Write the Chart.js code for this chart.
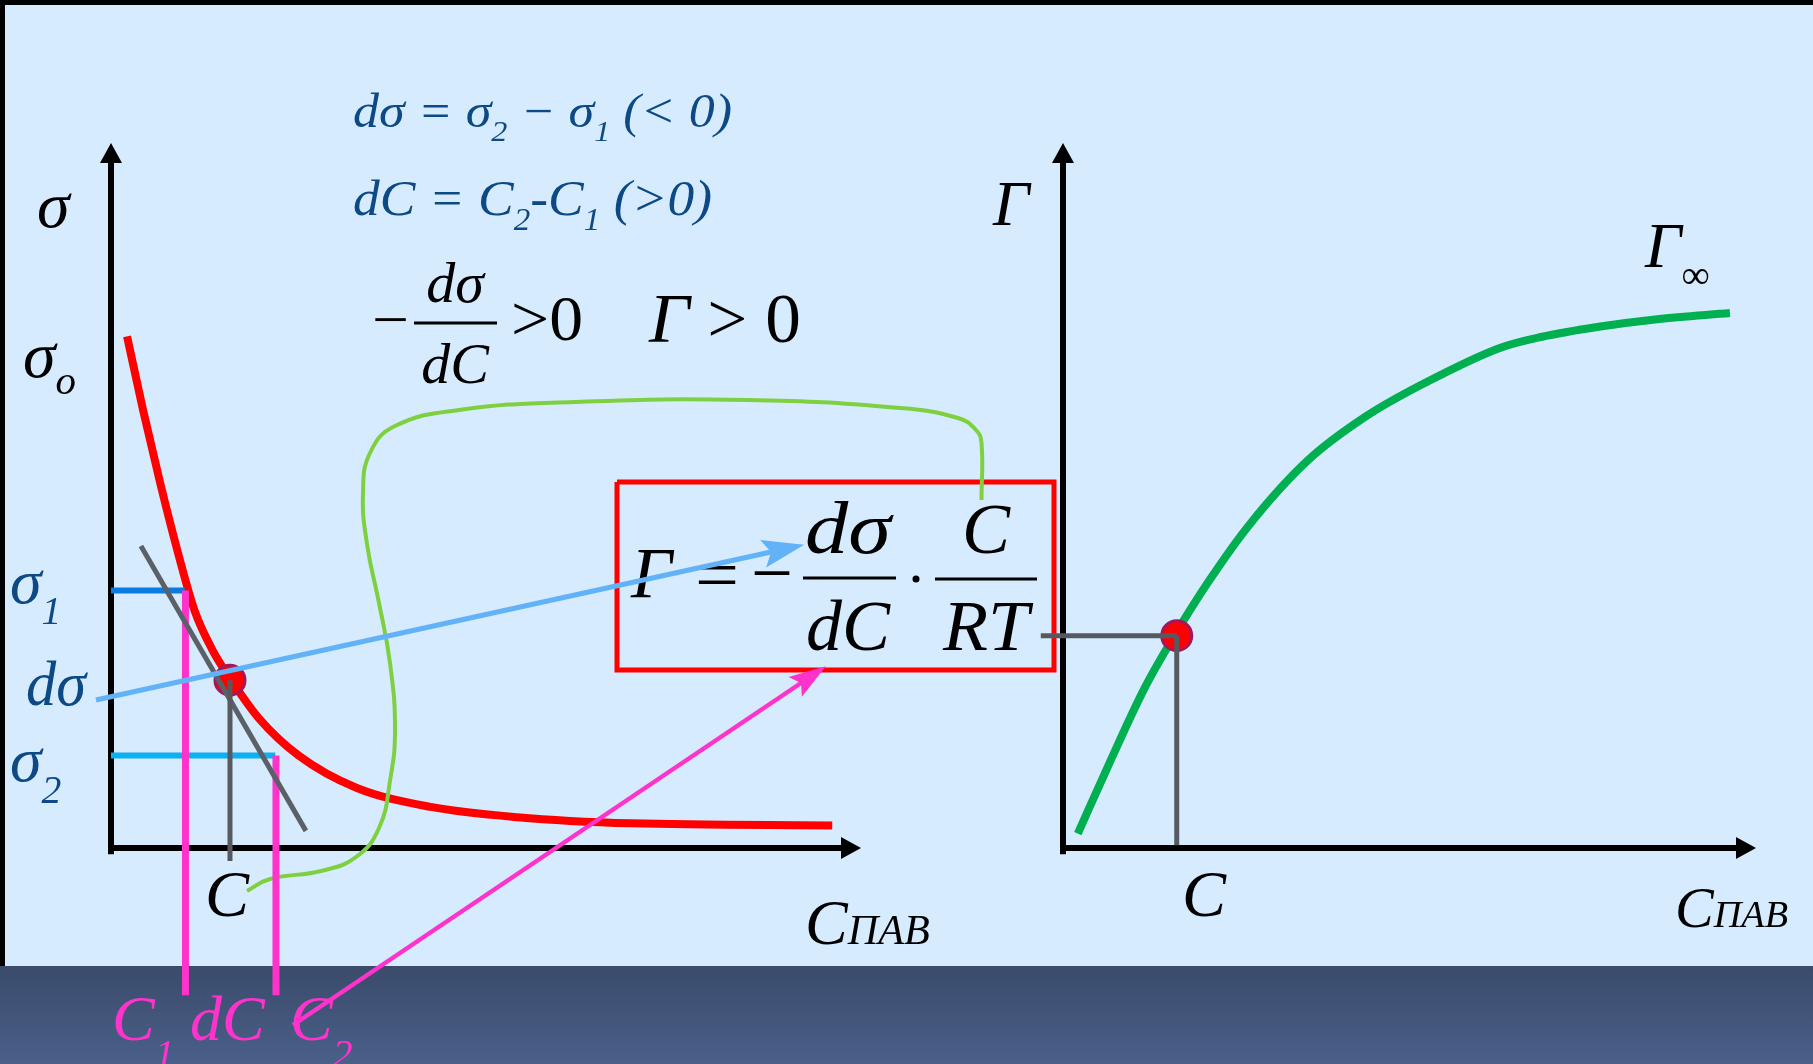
<!DOCTYPE html>
<html>
<head>
<meta charset="utf-8">
<script src="https://cdn.jsdelivr.net/npm/chart.js@4.4.0/dist/chart.umd.min.js"></script>
<style>
  html, body { margin: 0; padding: 0; background: #000; overflow: hidden; }
  #wrap { width: 1813px; height: 1064px; }
</style>
</head>
<body>
<div id="wrap"><canvas id="c" width="1813" height="1064"></canvas></div>
<script>
// ---- левая панель: σ(C), условные единицы (C 0..10, σ 0..10)
const sigmaC = [0.22, 0.44, 0.68, 0.92, 1.15, 1.39, 1.66, 2.02, 2.57, 3.36, 4.38, 5.56, 7.13, 9.88];
const sigmaV = [7.47, 6.39, 5.30, 4.30, 3.45, 2.89, 2.43, 1.90, 1.35, 0.88, 0.60, 0.45, 0.36, 0.33];
const tangentC = [0.41, 2.67];
const tangentV = [4.41, 0.25];
const pointC = 1.63, pointSigma = 2.45;
const sigma1 = 3.76, sigma2 = 1.35;
const c1 = 1.02, c2 = 2.26;

// ---- правая панель: Γ(C)
const gammaC = [0.22, 0.69, 1.21, 1.65, 2.17, 2.77, 3.64, 4.50, 5.36, 6.49, 7.10, 7.96, 8.83, 9.91];
const gammaV = [0.21, 1.24, 2.33, 3.09, 3.90, 4.72, 5.66, 6.30, 6.78, 7.30, 7.46, 7.61, 7.72, 7.81];
const pointGC = 1.69, pointGamma = 3.10;

// ---- связи на листе (единицы листа)
const boxX = [617, 1054, 1054, 617, 617];
const boxY = [482, 482, 670, 670, 482];
const blueArrowX = [96, 771];
const blueArrowY = [700, 552];
const pinkArrowX = [293, 801];
const pinkArrowY = [1025, 683];
const linkX = [247, 270, 321, 356, 379, 390, 395, 390, 379, 367, 363, 370, 395, 459, 574, 746, 900, 958, 976, 981.5, 981.5];
const linkY = [891, 879, 871, 857, 828, 781, 730, 663, 603, 544, 493, 453, 426, 410, 402, 400, 408, 418, 430, 443, 500];

const FONT = "'Liberation Serif', 'Times New Roman', serif";
const BLUE = '#0d4a85', MAG = '#ff33cc';

// подписи: текст + место
const labels = [
  { p: [['dσ = σ'], ['2', 's'], [' − σ'], ['1', 's'], [' (< 0)']], x: 353, y: 127, size: 48, color: BLUE, w: 379 },
  { p: [['dC = C'], ['2', 's'], ['-C'], ['1', 's'], [' (>0)']], x: 353, y: 215, size: 50, color: BLUE, w: 359 },
  { p: [['−', 'up']], x: 372, y: 339, size: 58, w: 37 },
  { p: [['dσ']], x: 455, y: 302, size: 58, align: 'center' },
  { p: [['dC']], x: 455, y: 383, size: 58, align: 'center' },
  { p: [['>0', 'up']], x: 511, y: 340, size: 64, w: 72 },
  { p: [['Γ'], [' > 0', 'up']], x: 649, y: 342, size: 70, w: 152 },
  { bar: [414, 497, 323], lw: 3 },

  { p: [['σ']], x: 37, y: 227, size: 66 },
  { p: [['σ'], ['o', 's']], x: 23, y: 377, size: 66, sub: 0.26 },
  { p: [['σ'], ['1', 's']], x: 10, y: 603, size: 64, color: BLUE, sub: 0.33 },
  { p: [['dσ']], x: 26, y: 705, size: 64, color: BLUE, w: 60 },
  { p: [['σ'], ['2', 's']], x: 10, y: 781, size: 64, color: BLUE, sub: 0.35 },
  { p: [['C']], x: 205, y: 916, size: 66 },
  { p: [['С'], ['ПАВ', 'sm']], x: 805, y: 944, size: 64 },

  { p: [['Γ']], x: 993, y: 225, size: 64 },
  { p: [['Γ'], ['∞', 's', 'up']], x: 1645, y: 267, size: 64, sub: 0.33 },
  { p: [['C']], x: 1182, y: 916, size: 66 },
  { p: [['С'], ['ПАВ', 'sm']], x: 1675, y: 927, size: 58 },

  { p: [['C'], ['1', 's']], x: 112, y: 1040, size: 64, color: MAG, sub: 0.42 },
  { p: [['dC']], x: 190, y: 1040, size: 64, color: MAG },
  { p: [['C'], ['2', 's']], x: 290, y: 1040, size: 64, color: MAG, sub: 0.42 },

  // формула в рамке
  { p: [['Γ']], x: 631, y: 597, size: 72 },
  { p: [['=', 'up']], x: 695, y: 599, size: 72, w: 44 },
  { p: [['−', 'up']], x: 751, y: 597, size: 72, w: 42 },
  { bar: [803, 896, 578], lw: 3 },
  { p: [['dσ']], x: 848, y: 553, size: 74, align: 'center', w: 86 },
  { p: [['dC']], x: 848, y: 650, size: 72, align: 'center' },
  { dot: [916, 579], r: 3.5 },
  { bar: [935, 1037, 579], lw: 3 },
  { p: [['C']], x: 986, y: 553, size: 72, align: 'center' },
  { p: [['RT']], x: 986, y: 650, size: 72, align: 'center', w: 86 }
];

function setFont(ctx, size, up) {
  ctx.font = (up ? '' : 'italic ') + size + 'px ' + FONT;
}

function drawRich(ctx, lb, X, Y) {
  const base = lb.size, subK = lb.sub || 0.3;
  const spans = lb.p.map(([t, kind, style]) => {
    let size = base, dy = 0;
    if (kind === 's') { size = base * 0.62; dy = base * subK; }
    if (kind === 'sm') size = base * 0.66;
    const up = kind === 'up' || style === 'up';
    setFont(ctx, size, up);
    return { t, size, dy, up, w: ctx.measureText(t).width };
  });
  const total = spans.reduce((s, a) => s + a.w, 0);
  const sx = lb.w ? lb.w / total : 1;
  let x0 = X;
  if (lb.align === 'center') x0 -= total * sx / 2;
  ctx.save();
  ctx.translate(x0, Y);
  ctx.scale(sx, 1);
  ctx.fillStyle = lb.color || '#000';
  ctx.textBaseline = 'alphabetic';
  ctx.textAlign = 'left';
  let cx = 0;
  spans.forEach(s => { setFont(ctx, s.size, s.up); ctx.fillText(s.t, cx, s.dy); cx += s.w; });
  ctx.restore();
}

// диапазон шкалы, чтобы значения v0/v1 легли на нужные пиксели
function fitX(v0, px0, v1, px1, size) {
  const k = (v1 - v0) / (px1 - px0);
  const min = v0 - px0 * k;
  return { min, max: min + size * k };
}
function fitY(v0, py0, v1, py1, size) {
  const k = (v1 - v0) / (py0 - py1);
  const max = v0 + py0 * k;
  return { min: max - size * k, max };
}

const W = 1813, H = 1064;
const sxL = fitX(0, 111, 10, 841, W), syL = fitY(0, 848, 10, 163, H);
const sxR = fitX(0, 1063, 10, 1736, W), syR = fitY(0, 848, 10, 163, H);

function pts(xs, ys) { return xs.map((x, i) => ({ x, y: ys[i] })); }

function line(xs, ys, color, width, ax, extra) {
  return Object.assign({
    data: pts(xs, ys),
    showLine: true,
    borderColor: color,
    backgroundColor: color,
    borderWidth: width,
    pointRadius: 0,
    pointHoverRadius: 0,
    fill: false,
    tension: 0,
    xAxisID: ax[0],
    yAxisID: ax[1]
  }, extra || {});
}

function dot(x, y, ax) {
  return {
    data: [{ x, y }],
    showLine: false,
    pointRadius: 15,
    pointHoverRadius: 15,
    pointBackgroundColor: '#ff0000',
    pointBorderColor: '#a3175e',
    pointBorderWidth: 3,
    xAxisID: ax[0],
    yAxisID: ax[1]
  };
}

const L = ['xL', 'yL'], R = ['xR', 'yR'], P = ['xP', 'yP'];
const GRAY = '#565a60';

// первый набор рисуется поверх остальных
const datasets = [
  line(blueArrowX, blueArrowY, '#62b2f7', 5, P, { head: { len: 34, half: 14, sweep: 8 } }),
  line(pinkArrowX, pinkArrowY, MAG, 4.5, P, { head: { len: 30, half: 12, sweep: 7 } }),
  line([pointC, pointC], [pointSigma, -0.19], GRAY, 5, L),
  line(tangentC, tangentV, '#5b6068', 5, L),
  line([-0.33, pointGC], [pointGamma, pointGamma], GRAY, 5, R),
  line([pointGC, pointGC], [pointGamma, 0.04], GRAY, 5, R),
  dot(pointC, pointSigma, L),
  dot(pointGC, pointGamma, R),
  line([c1, c1], [sigma1, -2.15], MAG, 7, L),
  line([c2, c2], [sigma2, -2.15], MAG, 7, L),
  line([0, 1.01], [sigma1, sigma1], '#0a7be0', 6, L),
  line([0, 2.25], [sigma2, sigma2], '#0db0f0', 6, L),
  line(linkX, linkY, '#7ed040', 4, P, { tension: 0.45, borderJoinStyle: 'round' }),
  line(sigmaC, sigmaV, '#ff0000', 8, L, { cubicInterpolationMode: 'monotone', borderJoinStyle: 'round' }),
  line(gammaC, gammaV, '#00b050', 8, R, { cubicInterpolationMode: 'monotone', borderJoinStyle: 'round' }),
  line(boxX, boxY, '#ff0000', 5, P, { borderJoinStyle: 'miter' }),
  line([0, 0], [-0.09, 10], '#000', 6, L, { head: { len: 20, half: 11 } }),
  line([-0.04, 10], [0, 0], '#000', 6, L, { head: { len: 20, half: 11 } }),
  line([0, 0], [-0.09, 10], '#000', 6, R, { head: { len: 20, half: 11 } }),
  line([-0.04, 10], [0, 0], '#000', 6, R, { head: { len: 20, half: 11 } })
];

const backdrop = {
  id: 'backdrop',
  beforeDraw(chart) {
    const { ctx, width, height } = chart;
    ctx.save();
    ctx.fillStyle = '#000';
    ctx.fillRect(0, 0, width, height);
    ctx.fillStyle = '#d6ebfd';
    ctx.fillRect(5, 5, width - 5, 961);
    const g = ctx.createLinearGradient(0, 966, 0, height);
    g.addColorStop(0, '#3a4b6b');
    g.addColorStop(1, '#4a6089');
    ctx.fillStyle = g;
    ctx.fillRect(0, 966, width, height - 966);
    ctx.restore();
  }
};

const texts = {
  id: 'texts',
  beforeDatasetsDraw(chart) {
    const ctx = chart.ctx, sx = chart.scales.xP, sy = chart.scales.yP;
    labels.forEach(lb => {
      if (lb.bar) {
        ctx.save();
        ctx.strokeStyle = lb.color || '#000';
        ctx.lineWidth = lb.lw;
        ctx.beginPath();
        ctx.moveTo(sx.getPixelForValue(lb.bar[0]), sy.getPixelForValue(lb.bar[2]));
        ctx.lineTo(sx.getPixelForValue(lb.bar[1]), sy.getPixelForValue(lb.bar[2]));
        ctx.stroke();
        ctx.restore();
      } else if (lb.dot) {
        ctx.save();
        ctx.fillStyle = '#000';
        ctx.beginPath();
        ctx.arc(sx.getPixelForValue(lb.dot[0]), sy.getPixelForValue(lb.dot[1]), lb.r, 0, Math.PI * 2);
        ctx.fill();
        ctx.restore();
      } else {
        drawRich(ctx, lb, sx.getPixelForValue(lb.x), sy.getPixelForValue(lb.y));
      }
    });
  }
};

const heads = {
  id: 'heads',
  afterDatasetDraw(chart, args) {
    const ds = chart.data.datasets[args.index];
    if (!ds.head) return;
    const el = args.meta.data;
    const a = el[el.length - 2], b = el[el.length - 1];
    const dx = b.x - a.x, dy = b.y - a.y, d = Math.hypot(dx, dy);
    const ux = dx / d, uy = dy / d, nx = -uy, ny = ux;
    const { len, half, sweep = 0 } = ds.head;
    const ctx = chart.ctx;
    ctx.save();
    ctx.fillStyle = ds.borderColor;
    ctx.beginPath();
    ctx.moveTo(b.x + ux * len, b.y + uy * len);
    ctx.lineTo(b.x + nx * half - ux * sweep, b.y + ny * half - uy * sweep);
    ctx.lineTo(b.x, b.y);
    ctx.lineTo(b.x - nx * half - ux * sweep, b.y - ny * half - uy * sweep);
    ctx.closePath();
    ctx.fill();
    ctx.restore();
  }
};

new Chart(document.getElementById('c'), {
  type: 'scatter',
  data: { datasets },
  options: {
    responsive: false,
    animation: false,
    events: [],
    layout: { padding: 0, autoPadding: false },
    plugins: { legend: { display: false }, tooltip: { enabled: false } },
    scales: {
      xL: { type: 'linear', display: false, min: sxL.min, max: sxL.max },
      yL: { type: 'linear', display: false, min: syL.min, max: syL.max },
      xR: { type: 'linear', display: false, min: sxR.min, max: sxR.max },
      yR: { type: 'linear', display: false, min: syR.min, max: syR.max },
      xP: { type: 'linear', display: false, min: 0, max: W },
      yP: { type: 'linear', display: false, min: 0, max: H, reverse: true }
    }
  },
  plugins: [backdrop, texts, heads]
});
</script>
</body>
</html>
